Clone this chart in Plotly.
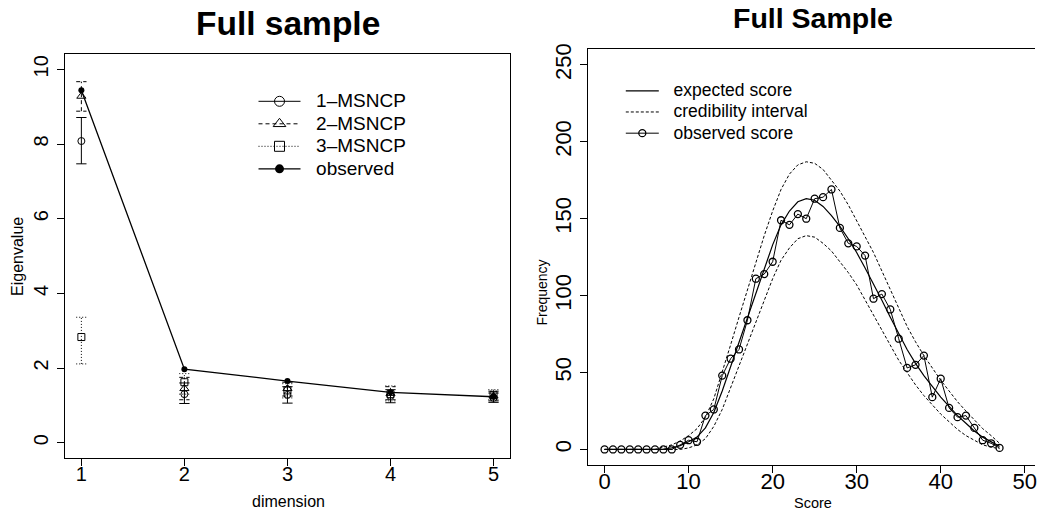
import plotly.graph_objects as go

# ---- Left panel: eigenvalues by dimension ----
dimension = [1, 2, 3, 4, 5]
observed_eig = [9.44, 1.97, 1.65, 1.35, 1.23]

msncp1_mean = [8.08, 1.30, 1.28, 1.25, 1.20]
msncp1_lo = [7.47, 1.05, 1.06, 1.07, 1.08]
msncp1_hi = [8.71, 1.60, 1.50, 1.42, 1.33]

msncp2_mean = [9.28, 1.45, 1.45, 1.32, 1.25]
msncp2_lo = [8.88, 1.15, 1.25, 1.15, 1.12]
msncp2_hi = [9.67, 1.75, 1.62, 1.50, 1.38]

msncp3_mean = [2.83, 1.62, 1.40, 1.30, 1.28]
msncp3_lo = [2.11, 1.30, 1.20, 1.12, 1.15]
msncp3_hi = [3.36, 1.85, 1.58, 1.52, 1.42]

# ---- Right panel: score frequencies ----
score = list(range(48))
observed_freq = [0, 0, 0, 0, 0, 0, 0, 0, 0, 3, 6, 5, 22, 26, 48, 59, 65, 84, 111, 114,
                 122, 149, 146, 153, 150, 163, 164, 169, 144, 134, 132, 126, 98, 101, 91,
                 72, 53, 55, 61, 34, 46, 27, 21, 22, 14, 6, 4, 1]
expected_freq = [0, 0, 0, 0, 0, 0, 0, 0.3, 1, 2.5, 5, 8, 14, 24, 38, 54, 70, 86, 102, 118,
                 133, 146, 155, 161, 163, 162, 158, 152, 145, 137, 128, 118, 108, 97, 86,
                 75, 65, 56, 48, 41, 34, 28, 22, 17, 12, 8, 5, 2]
upper_freq = [0, 0, 0, 0, 0, 0, 0, 1.5, 3, 5.5, 9, 13.5, 21, 33, 50, 68, 86, 104, 121, 139,
              155, 169, 179, 185, 187, 186, 182, 175, 168, 159, 149, 139, 128, 116, 104,
              92, 80, 70, 61, 53, 45, 38, 31, 25, 19, 13.5, 9, 4]
lower_freq = [0, 0, 0, 0, 0, 0, 0, 0, 0, 0, 1, 3, 7, 15, 26, 40, 54, 68, 83, 97,
              111, 123, 131, 137, 139, 138, 134, 129, 122, 115, 107, 97, 88, 78, 68,
              58, 50, 42, 35, 29, 23, 18, 13, 9, 6, 3, 1.5, 0.5]

FONT = "Liberation Sans, Arial, Helvetica, sans-serif"
W, H = 1037, 510
CAP = 0.05  # half-width of error-bar caps, in dimension units
GAP = "\u00a0\u00a0"  # space between legend key and label


def bar_path(xs, lo, hi):
    """Vertical error bars with flat caps, as one broken line."""
    px, py = [], []
    for x, a, b in zip(xs, lo, hi):
        px += [x, x, None, x - CAP, x + CAP, None, x - CAP, x + CAP, None]
        py += [a, b, None, a, a, None, b, b, None]
    return px, py


def big(label, size):
    return f"<span style='font-size:{size}px'>{GAP}{label}</span>"


fig = go.Figure()

series = [
    ("1\u2013MSNCP", msncp1_mean, msncp1_lo, msncp1_hi, "circle-open", "solid", 7),
    ("2\u2013MSNCP", msncp2_mean, msncp2_lo, msncp2_hi, "triangle-up-open", "4px,3px", 8),
    ("3\u2013MSNCP", msncp3_mean, msncp3_lo, msncp3_hi, "square-open", "1px,2px", 7),
]

for name, mean, lo, hi, sym, dash, size in series:
    bx, by = bar_path(dimension, lo, hi)
    fig.add_trace(go.Scatter(x=bx, y=by, mode="lines", showlegend=False,
                             line=dict(color="black", width=1, dash=dash),
                             xaxis="x", yaxis="y", hoverinfo="skip"))
    fig.add_trace(go.Scatter(x=dimension, y=mean, mode="markers", showlegend=False,
                             marker=dict(symbol=sym, size=size, color="black",
                                         line=dict(width=1, color="black")),
                             xaxis="x", yaxis="y"))

fig.add_trace(go.Scatter(x=dimension, y=observed_eig, mode="lines+markers", showlegend=False,
                         line=dict(color="black", width=1.3),
                         marker=dict(symbol="circle", size=6, color="black"),
                         xaxis="x", yaxis="y"))

# legend entries for the left panel
for name, mean, lo, hi, sym, dash, size in series:
    fig.add_trace(go.Scatter(x=[None], y=[None], mode="lines+markers", name=big(name, 19),
                             line=dict(color="black", width=1, dash=dash),
                             marker=dict(symbol=sym, size=size + 3, color="black",
                                         line=dict(width=1, color="black")),
                             xaxis="x", yaxis="y", legend="legend"))
fig.add_trace(go.Scatter(x=[None], y=[None], mode="lines+markers", name=big("observed", 19),
                         line=dict(color="black", width=1.3),
                         marker=dict(symbol="circle", size=9, color="black"),
                         xaxis="x", yaxis="y", legend="legend"))

# ---- right panel traces ----
fig.add_trace(go.Scatter(x=score, y=expected_freq, mode="lines",
                         name=big("expected score", 17.5),
                         line=dict(color="black", width=1.2),
                         xaxis="x2", yaxis="y2", legend="legend2"))
fig.add_trace(go.Scatter(x=score, y=upper_freq, mode="lines",
                         name=big("credibility interval", 17.5),
                         line=dict(color="black", width=1, dash="3px,2px"),
                         xaxis="x2", yaxis="y2", legend="legend2"))
fig.add_trace(go.Scatter(x=score, y=lower_freq, mode="lines", showlegend=False,
                         line=dict(color="black", width=1, dash="3px,2px"),
                         xaxis="x2", yaxis="y2"))
fig.add_trace(go.Scatter(x=score, y=observed_freq, mode="lines+markers",
                         name=big("observed score", 17.5),
                         line=dict(color="black", width=1),
                         marker=dict(symbol="circle-open", size=7, color="black",
                                     line=dict(width=1.3, color="black")),
                         xaxis="x2", yaxis="y2", legend="legend2"))

axis_common = dict(showgrid=False, zeroline=False, showline=True, linecolor="black",
                   linewidth=1, ticks="outside", ticklen=7, tickwidth=1, tickcolor="black",
                   ticklabeloverflow="allow")

left_tick = dict(family=FONT, size=20, color="black")
right_tick = dict(family=FONT, size=22, color="black")

fig.update_layout(
    width=W, height=H,
    margin=dict(l=0, r=0, t=0, b=0),
    paper_bgcolor="white", plot_bgcolor="white",
    font=dict(family=FONT, color="black"),
    xaxis=dict(axis_common, domain=[65 / W, 511 / W], range=[0.84, 5.16],
               tickvals=dimension, mirror=True, anchor="y", tickfont=left_tick,
               ticklabelstandoff=-9),
    yaxis=dict(axis_common, domain=[1 - 457 / H, 1 - 49 / H], range=[-0.4, 10.4],
               tickvals=[0, 2, 4, 6, 8, 10], tickangle=-90, mirror=True, anchor="x",
               tickfont=left_tick, ticklabelstandoff=1),
    xaxis2=dict(axis_common, domain=[588.9 / W, 1.0], range=[-2, 51.22],
                tickvals=[0, 10, 20, 30, 40, 50], mirror=True, anchor="y2",
                tickfont=right_tick, ticklabelstandoff=-10),
    yaxis2=dict(axis_common, domain=[1 - 464.3 / H, 1 - 44 / H], range=[-10, 260],
                tickvals=[0, 50, 100, 150, 200, 250], tickangle=-90, anchor="x2",
                tickfont=right_tick),
    legend=dict(x=254 / W, y=1 - 80 / H, xanchor="left", yanchor="top",
                bgcolor="rgba(0,0,0,0)", borderwidth=0, itemwidth=42,
                font=dict(family=FONT, size=15, color="black"), tracegroupgap=0),
    legend2=dict(x=622 / W, y=1 - 70 / H, xanchor="left", yanchor="top",
                 bgcolor="rgba(0,0,0,0)", borderwidth=0, itemwidth=33,
                 font=dict(family=FONT, size=14, color="black"), tracegroupgap=0),
    annotations=[
        dict(text="<b>Full sample</b>", x=289 / W, y=1 - 18 / H, xref="paper", yref="paper",
             xanchor="center", yanchor="middle", showarrow=False,
             font=dict(family=FONT, size=33.5, color="black")),
        dict(text="<b>Full Sample</b>", x=815 / W, y=1 - 12 / H, xref="paper", yref="paper",
             xanchor="center", yanchor="middle", showarrow=False,
             font=dict(family=FONT, size=28.5, color="black")),
        dict(text="Eigenvalue", x=17 / W, y=1 - 253 / H, xref="paper", yref="paper",
             xanchor="center", yanchor="middle", showarrow=False, textangle=-90,
             font=dict(family=FONT, size=16, color="black")),
        dict(text="dimension", x=289 / W, y=1 - 501 / H, xref="paper", yref="paper",
             xanchor="center", yanchor="middle", showarrow=False,
             font=dict(family=FONT, size=16, color="black")),
        dict(text="Frequency", x=543 / W, y=1 - 290 / H, xref="paper", yref="paper",
             xanchor="center", yanchor="middle", showarrow=False, textangle=-90,
             font=dict(family=FONT, size=14, color="black")),
        dict(text="Score", x=815 / W, y=1 - 503 / H, xref="paper", yref="paper",
             xanchor="center", yanchor="middle", showarrow=False,
             font=dict(family=FONT, size=14.5, color="black")),
    ],
)

fig.write_html("out.html")
